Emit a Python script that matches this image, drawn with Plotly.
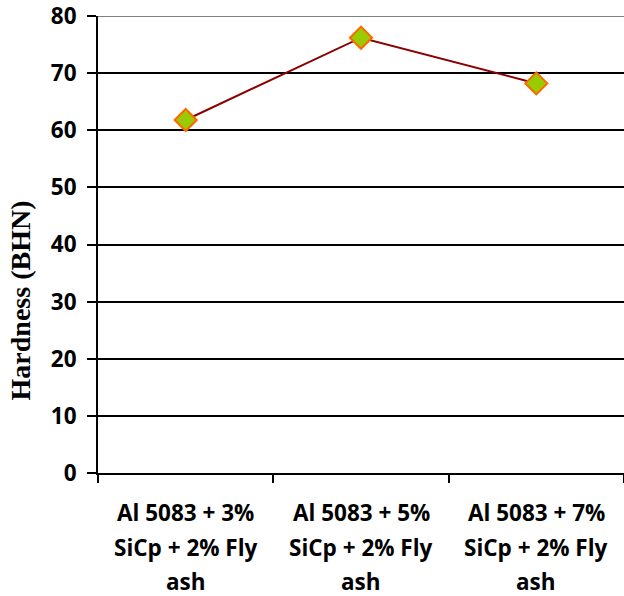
import plotly.graph_objects as go

categories = ["Al 5083 + 3% SiCp + 2% Fly ash",
              "Al 5083 + 5% SiCp + 2% Fly ash",
              "Al 5083 + 7% SiCp + 2% Fly ash"]
label_lines = [["Al 5083 + 3%", "SiCp + 2% Fly", "ash"],
               ["Al 5083 + 5%", "SiCp + 2% Fly", "ash"],
               ["Al 5083 + 7%", "SiCp + 2% Fly", "ash"]]
hardness = [61.8, 76.2, 68.2]
y_ticks = [0, 10, 20, 30, 40, 50, 60, 70, 80]
y_title = "Hardness (BHN)"

tick_font = dict(family="Open Sans", size=22.5, color="black")

fig = go.Figure()
fig.add_trace(go.Scatter(
    x=categories, y=hardness, mode="lines+markers",
    line=dict(color="#8B0000", width=2),
    marker=dict(symbol="diamond", size=17, color="#99CC00",
                line=dict(color="#FF6600", width=2)),
    showlegend=False,
))

# multi-line category labels, one annotation per line for wider line spacing
line_y = [-0.086, -0.162, -0.238]
for cat, lines in zip(categories, label_lines):
    for ly, txt in zip(line_y, lines):
        fig.add_annotation(x=cat, y=ly, xref="x", yref="paper", text=f"<b>{txt}</b>",
                           showarrow=False, font=tick_font, yanchor="middle",
                           borderpad=0)

# vertical axis title, placed below the axis midpoint
fig.add_annotation(x=-0.148, y=0.378, xref="paper", yref="paper",
                   text=f"<b>{y_title}</b>", textangle=-90, showarrow=False,
                   font=dict(family="Liberation Serif", size=28, color="black"),
                   xanchor="center", yanchor="middle")

# top border gridline drawn in grey
fig.add_shape(type="line", xref="paper", yref="y", x0=0, x1=1, y0=80, y1=80,
              line=dict(color="#808080", width=2), layer="above")

fig.update_layout(
    width=624, height=596,
    margin=dict(l=98, r=0, t=16, b=123),
    paper_bgcolor="white", plot_bgcolor="white",
    xaxis=dict(type="category", tickson="boundaries", ticks="outside",
               ticklen=8, tickcolor="black", tickwidth=2,
               showticklabels=False, showgrid=False,
               showline=True, linecolor="black", linewidth=2,
               range=[-0.5, 2.5]),
    yaxis=dict(range=[0, 80], tickvals=y_ticks,
               ticktext=[f"<b>{v}</b>" for v in y_ticks],
               tickfont=tick_font, ticks="outside", ticklen=9,
               tickcolor="black", tickwidth=2,
               ticklabelstandoff=6, ticklabeloverflow="allow",
               showgrid=True, gridcolor="black", gridwidth=2,
               showline=True, linecolor="black", linewidth=2,
               zeroline=False),
)

fig.write_html("out.html")
